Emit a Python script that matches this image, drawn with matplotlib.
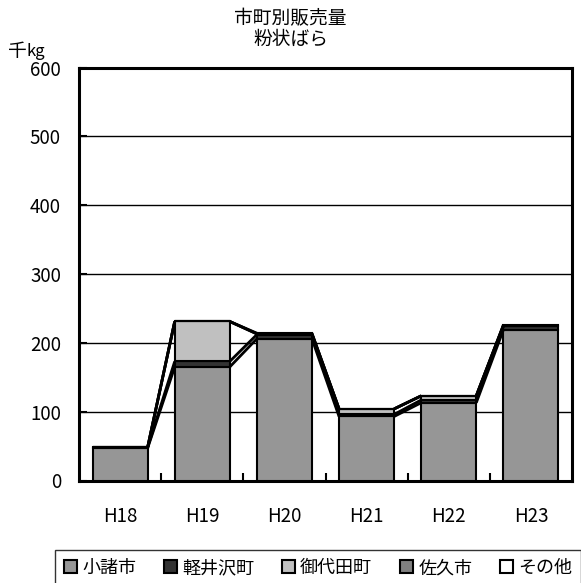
import matplotlib
matplotlib.use("Agg")
import matplotlib.pyplot as plt
from matplotlib.patches import Patch

plt.rcParams['font.family'] = ['Noto Sans CJK JP', 'DejaVu Sans']
plt.rcParams['font.size'] = 13.5

###########
# Data    #
###########
years = ["H18", "H19", "H20", "H21", "H22", "H23"]
komoro    = [47, 165, 206, 93, 113, 219]
karuizawa = [1, 8, 6, 3, 4, 5]
miyota    = [0, 58, 1, 8, 6, 1]
saku      = [0, 0, 0, 0, 0, 0]
sonota    = [0, 0, 1, 0, 0, 1]

series_names = ["小諸市", "軽井沢町", "御代田町", "佐久市", "その他"]
series_colors = ["#969696", "#333333", "#c0c0c0", "#808080", "#ffffff"]
series_values = [komoro, karuizawa, miyota, saku, sonota]

##########
# Figure #
##########
fig = plt.figure(figsize=[5.81, 5.83], dpi=100)
ax = fig.add_axes([79/581, 1 - 480.5/583, 493/581, 413/583])

x = range(len(years))
width = 0.67
bottom = [0. for _ in years]
tops = []
for name, color, values in zip(series_names, series_colors, series_values):
    ax.bar(x, values, width=width, bottom=bottom, color=color,
           edgecolor="black", linewidth=1.5, zorder=3)
    bottom = [b + v for b, v in zip(bottom, values)]
    tops.append(list(bottom))

# Series lines between bars
for level in tops:
    for i in range(len(years) - 1):
        ax.plot([i + width/2, i + 1 - width/2], [level[i], level[i+1]],
                color="black", linewidth=2, zorder=4, solid_capstyle="butt")

# Decorate
ax.set_xlim(-0.5, len(years) - 0.5)
ax.set_ylim(0, 600)
ax.set_yticks(range(0, 601, 100))
ax.grid(axis="y", color="black", linewidth=1, zorder=0)
ax.set_xticks([i + 0.5 for i in range(len(years) - 1)], minor=False)
ax.set_xticklabels([])
ax.set_xticks(list(x), minor=True)
ax.set_xticklabels(years, minor=True)
ax.tick_params(axis="x", which="major", direction="in", length=6, width=1.5)
ax.tick_params(axis="x", which="minor", length=0, pad=18)
ax.tick_params(axis="y", direction="in", length=6, width=1.5, pad=13)
for spine in ax.spines.values():
    spine.set_linewidth(2.2)

fig.text(0.5, 1 - 19/583, "市町別販売量", ha="center", va="center", fontsize=13.5)
fig.text(0.5, 1 - 39/583, "粉状ばら", ha="center", va="center", fontsize=13.5)
fig.text(8/581, 1 - 51/583, "千", ha="left", va="center", fontsize=13.5)
fig.text(26/581, 1 - 52/583, "kg", ha="left", va="center", fontsize=12)

handles = [Patch(facecolor=c, edgecolor="black", linewidth=1.5) for c in series_colors]
leg = fig.legend(handles, series_names, loc="upper left",
                 bbox_to_anchor=(55/581, 1 - 550/583), ncol=5,
                 frameon=True, fancybox=False, edgecolor="black",
                 handlelength=0.7, handleheight=0.7, handletextpad=0.3,
                 columnspacing=1.55, borderpad=0.5, borderaxespad=0,
                 fontsize=13)
leg.get_frame().set_linewidth(1)

plt.savefig("out.png", dpi=100)
